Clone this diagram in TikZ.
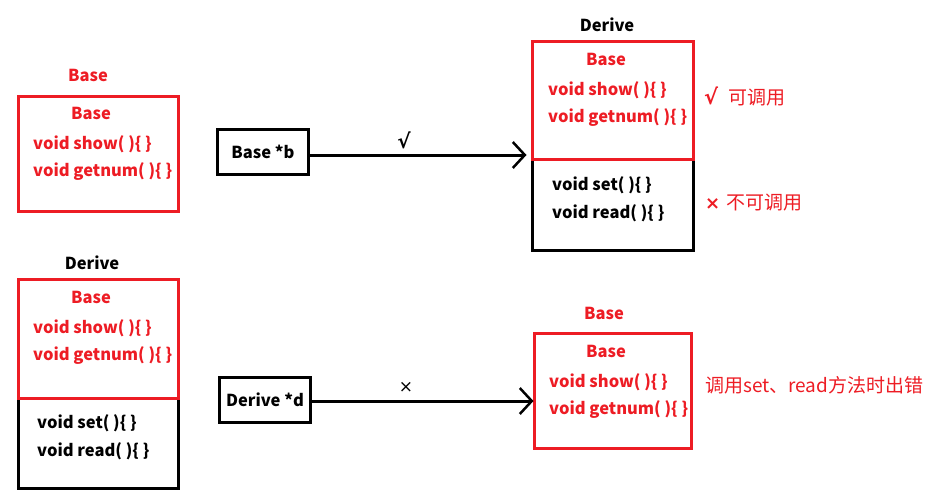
\documentclass[tikz,border=0pt]{standalone}
\usepackage{fontspec}
\setmainfont{Noto Sans CJK SC}
\newfontfamily\symf{DejaVu Sans}
\usetikzlibrary{arrows.meta}
\definecolor{pred}{HTML}{ED1C24}
\begin{document}
\begin{tikzpicture}[x=1pt,y=-1pt,
  redbox/.style={draw=pred, line width=3pt, inner sep=0pt, outer sep=0pt, anchor=north west},
  blkbox/.style={draw=black, line width=3pt, inner sep=0pt, outer sep=0pt, anchor=north west},
  rb/.style={text=pred, font=\bfseries\fontsize{16.5}{19}\selectfont, inner sep=0pt},
  kb/.style={text=black, font=\bfseries\fontsize{16.5}{19}\selectfont, inner sep=0pt},
  rn/.style={text=pred, font=\fontsize{19}{22}\selectfont, inner sep=0pt},
  kn/.style={text=black, font=\fontsize{15}{18}\selectfont, inner sep=0pt},
  ptrbox/.style={draw=black, line width=3pt, inner sep=0pt, outer sep=0pt, minimum width=91pt, minimum height=45pt, font=\bfseries\fontsize{16.5}{19}\selectfont},
  ptr/.style={draw=black, line width=3pt, -{Straight Barb[length=12pt,width=26pt,line width=2.5pt]}}
]
\useasboundingbox (0,0) rectangle (942,499);
% ---- top-left: Base object
\node[rb] (t1) at (88,75) {Base};
\node[redbox, minimum width=160pt, minimum height=115pt] (b1) at (18.5,96.5) {};
\node[rb] (b1n) at (91,113) {Base};
\node[rb, anchor=west] (b1s) at (33,144) {void show( )\{ \}};
\node[rb, anchor=west] (b1g) at (33,172) {void getnum( )\{ \}};
% ---- pointer Base *b
\node[ptrbox] (pb) at (263,152) {Base *b};
% ---- top-right: Derive object
\node[kb] (t2) at (607,25) {Derive};
\node[blkbox, minimum width=161pt, minimum height=91.5pt] (d1b) at (532.5,159) {};
\node[redbox, minimum width=161pt, minimum height=117.5pt] (d1) at (532.5,41.5) {};
\node[rb] (d1n) at (606,59) {Base};
\node[rb, anchor=west] (d1s) at (548,90) {void show( )\{ \}};
\node[rb, anchor=west] (d1g) at (548,118) {void getnum( )\{ \}};
\node[kb, anchor=west] (d1set) at (552,185) {void set( )\{ \}};
\node[kb, anchor=west] (d1read) at (552,213) {void read( )\{ \}};
\node[rn, anchor=west] (ok) at (704,97) {{\symf\bfseries\fontsize{21}{22}\selectfont √}\hspace{10pt}可调用};
\node[rn, anchor=west] (no) at (705,203) {{\symf\bfseries\fontsize{18}{20}\selectfont ×}\hspace{6pt}不可调用};
% ---- arrow top
\coordinate (e1) at ([xshift=-6pt]d1.west |- 0,155);
\draw[ptr] (pb.east |- e1) -- (e1);
\node[kn] (lab1) at (404,140) {\symf\bfseries\fontsize{20}{22}\selectfont √};
% ---- bottom-left: Derive object
\node[kb] (t3) at (92,263) {Derive};
\node[blkbox, minimum width=160pt, minimum height=90.5pt] (d2b) at (18.5,398) {};
\node[redbox, minimum width=160pt, minimum height=118.5pt] (d2) at (18.5,279.5) {};
\node[rb] (d2n) at (91,297) {Base};
\node[rb, anchor=west] (d2s) at (33,328) {void show( )\{ \}};
\node[rb, anchor=west] (d2g) at (33,356) {void getnum( )\{ \}};
\node[kb, anchor=west] (d2set) at (37,423) {void set( )\{ \}};
\node[kb, anchor=west] (d2read) at (37,451) {void read( )\{ \}};
% ---- pointer Derive *d
\node[ptrbox] (pd) at (265,400) {Derive *d};
% ---- bottom-right: Base object
\node[rb] (t4) at (604,313) {Base};
\node[redbox, minimum width=157pt, minimum height=115pt] (b2) at (534.5,333.5) {};
\node[rb] (b2n) at (606,351) {Base};
\node[rb, anchor=west] (b2s) at (549,382) {void show( )\{ \}};
\node[rb, anchor=west] (b2g) at (549,410) {void getnum( )\{ \}};
\node[rn, anchor=west] (err) at (705,385) {调用set、read方法时出错};
% ---- arrow bottom
\coordinate (e2) at ([xshift=-1pt]b2.west |- 0,401);
\draw[ptr] (pd.east |- e2) -- (e2);
\node[kn] (lab2) at (406,387) {\symf\fontsize{17}{19}\selectfont ×};
\end{tikzpicture}
\end{document}
